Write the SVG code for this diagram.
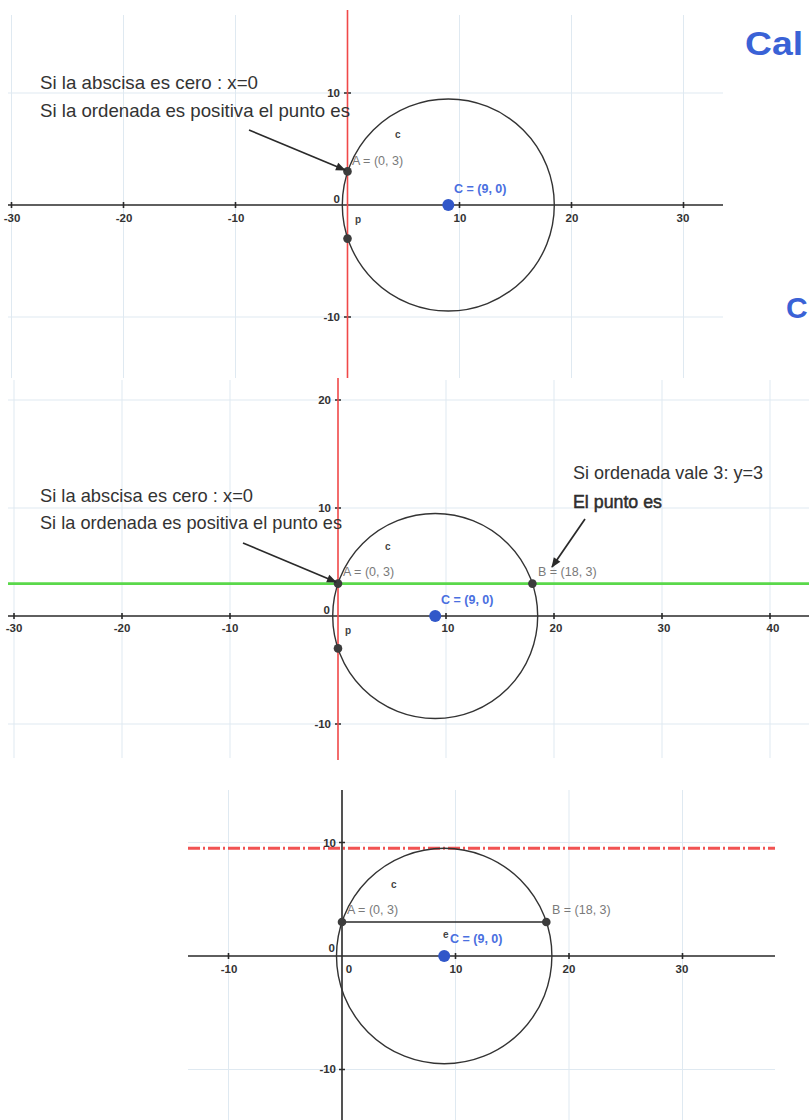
<svg xmlns="http://www.w3.org/2000/svg" width="809" height="1120" viewBox="0 0 809 1120">
<style>
.grid{stroke:#dfe9f1;stroke-width:1;fill:none}
.axis{stroke:#2a2a2a;stroke-width:1.6;fill:none}
.circ{stroke:#333;stroke-width:1.4;fill:none}
.red{stroke:#f04848;stroke-width:1.6;fill:none}
.tick{font-family:"Liberation Sans",Arial,sans-serif;font-size:11.5px;font-weight:bold;fill:#333;text-anchor:middle}
.ytick{font-family:"Liberation Sans",Arial,sans-serif;font-size:11.5px;font-weight:bold;fill:#333;text-anchor:end}
.pl{font-family:"Liberation Sans",Arial,sans-serif;font-size:12.5px;fill:#7a7a7a}
.cl{font-family:"Liberation Sans",Arial,sans-serif;font-size:12.5px;font-weight:bold;fill:#4a6fe0}
.nm{font-family:"Liberation Sans",Arial,sans-serif;font-size:10px;font-weight:bold;fill:#444}
.note{font-family:"Liberation Sans",Arial,sans-serif;font-size:19px;fill:#333}
.pt{fill:#3c3c3c}
.ctr{fill:#3157c9}
.arr{stroke:#2a2a2a;stroke-width:1.7;fill:none}
.hand{font-family:"Liberation Sans",Arial,sans-serif;font-weight:bold;fill:#3a62d6}
</style>
<defs>
<marker id="ah" viewBox="0 0 10 10" refX="9" refY="5" markerWidth="11" markerHeight="10" orient="auto" markerUnits="userSpaceOnUse">
<path d="M0,1 L10,5 L0,9 z" fill="#2a2a2a"/>
</marker>
</defs>
<rect width="809" height="1120" fill="#ffffff"/>

<!-- Panel 1 -->
<g id="panel1">
<g class="grid">
<path d="M11.5,15V378M123.5,15V378M235.5,15V378M459.5,15V378M571.5,15V378M683.5,15V378"/>
<path d="M8,93H723M8,317H723"/>
</g>
<path class="axis" d="M8,205H723"/>
<path class="axis" d="M11.5,202V208M123.5,202V208M235.5,202V208M459.5,202V208M571.5,202V208M683.5,202V208M344,93H351M344,317H351"/>
<path class="red" d="M347.5,10V378"/>
<circle class="circ" cx="448.3" cy="205" r="106"/>
<text class="tick" x="12" y="222">-30</text>
<text class="tick" x="124" y="222">-20</text>
<text class="tick" x="236" y="222">-10</text>
<text class="tick" x="460" y="222">10</text>
<text class="tick" x="572" y="222">20</text>
<text class="tick" x="683" y="222">30</text>
<text class="ytick" x="340" y="97">10</text>
<text class="ytick" x="340" y="321">-10</text>
<text class="ytick" x="340" y="203">0</text>
<circle class="pt" cx="347.5" cy="171.4" r="4.3"/>
<circle class="pt" cx="347.5" cy="238.6" r="4.3"/>
<circle class="ctr" cx="448.3" cy="205" r="6"/>
<text class="pl" x="352" y="165">A = (0, 3)</text>
<text class="cl" x="454" y="193">C = (9, 0)</text>
<text class="nm" x="395" y="138">c</text>
<text class="nm" x="355" y="223">p</text>
<text class="note" x="40" y="89" textLength="218" lengthAdjust="spacingAndGlyphs">Si la abscisa es cero : x=0</text>
<text class="note" x="40" y="117" textLength="310" lengthAdjust="spacingAndGlyphs">Si la ordenada es positiva el punto es</text>
<path class="arr" d="M249,130L345,170" marker-end="url(#ah)"/>
</g>

<!-- Panel 2 -->
<g id="panel2">
<g class="grid">
<path d="M14,380V758M122,380V758M230,380V758M446,380V758M554,380V758M662,380V758M770,380V758"/>
<path d="M8,400H809M8,508H809M8,724H809"/>
</g>
<path class="axis" d="M8,616H809"/>
<path class="axis" d="M14,613V619M122,613V619M230,613V619M446,613V619M554,613V619M662,613V619M770,613V619M335,400H341M335,508H341M335,724H341"/>
<path class="red" d="M338,378V760"/>
<path d="M8,583.6H809" stroke="#5ad84a" stroke-width="2.6" fill="none"/>
<circle class="circ" cx="435.2" cy="616" r="102.5"/>
<text class="tick" x="14" y="632">-30</text>
<text class="tick" x="122" y="632">-20</text>
<text class="tick" x="230" y="632">-10</text>
<text class="tick" x="448" y="632">10</text>
<text class="tick" x="556" y="632">20</text>
<text class="tick" x="664" y="632">30</text>
<text class="tick" x="773" y="632">40</text>
<text class="ytick" x="331" y="404">20</text>
<text class="ytick" x="331" y="512">10</text>
<text class="ytick" x="331" y="728">-10</text>
<text class="ytick" x="330" y="614">0</text>
<circle class="pt" cx="338" cy="583.6" r="4.3"/>
<circle class="pt" cx="338" cy="648.4" r="4.3"/>
<circle class="pt" cx="532.4" cy="583.6" r="4.3"/>
<circle class="ctr" cx="435.2" cy="616" r="6"/>
<text class="pl" x="343" y="576">A = (0, 3)</text>
<text class="pl" x="538" y="576">B = (18, 3)</text>
<text class="cl" x="441" y="604">C = (9, 0)</text>
<text class="nm" x="385" y="550">c</text>
<text class="nm" x="345" y="634">p</text>
<text class="note" x="40" y="502" textLength="213" lengthAdjust="spacingAndGlyphs">Si la abscisa es cero : x=0</text>
<text class="note" x="40" y="529" textLength="302" lengthAdjust="spacingAndGlyphs">Si la ordenada es positiva el punto es</text>
<path class="arr" d="M243,543L336,582" marker-end="url(#ah)"/>
<text class="note" x="573" y="479" textLength="190" lengthAdjust="spacingAndGlyphs">Si ordenada vale 3: y=3</text>
<text class="note" x="573" y="508" stroke="#222" stroke-width="0.5" fill="#222" textLength="89" lengthAdjust="spacingAndGlyphs">El punto es</text>
<path class="arr" d="M585,519L552,567" marker-end="url(#ah)"/>
</g>

<!-- Panel 3 -->
<g id="panel3">
<g class="grid">
<path d="M228.5,790V1120M455.5,790V1120M569,790V1120M682.5,790V1120"/>
<path d="M188,842.5H775M188,1069.5H775"/>
</g>
<path d="M188,848.3H775" stroke="#f04040" stroke-width="3" stroke-dasharray="12 3 2 3" fill="none" opacity="0.9"/>
<path class="axis" d="M188,956H775M342,790V1120"/>
<path class="axis" d="M228.5,953V959M455.5,953V959M569,953V959M682.5,953V959M339,842.5H345M339,1069.5H345"/>
<circle class="circ" cx="444.2" cy="956" r="107.7"/>
<path class="axis" d="M342,922H546.3"/>
<text class="tick" x="229" y="973">-10</text>
<text class="tick" x="349" y="973">0</text>
<text class="tick" x="456" y="973">10</text>
<text class="tick" x="569" y="973">20</text>
<text class="tick" x="682" y="973">30</text>
<text class="ytick" x="336" y="847">10</text>
<text class="ytick" x="336" y="1073">-10</text>
<text class="ytick" x="335" y="952">0</text>
<circle class="pt" cx="342" cy="922" r="4.3"/>
<circle class="pt" cx="546.3" cy="922" r="4.3"/>
<circle class="ctr" cx="444.2" cy="956" r="6"/>
<text class="pl" x="347" y="914">A = (0, 3)</text>
<text class="pl" x="552" y="914">B = (18, 3)</text>
<text class="nm" x="443" y="938" font-size="8">e</text>
<text class="cl" x="450" y="943">C = (9, 0)</text>
<text class="nm" x="391" y="888">c</text>
</g>

<!-- Handwritten notes -->
<g id="handwriting">
<text class="hand" x="745" y="55" font-size="34" textLength="58" lengthAdjust="spacingAndGlyphs">Cal</text>
<text class="hand" x="786" y="318" font-size="30">C</text>
</g>
</svg>
